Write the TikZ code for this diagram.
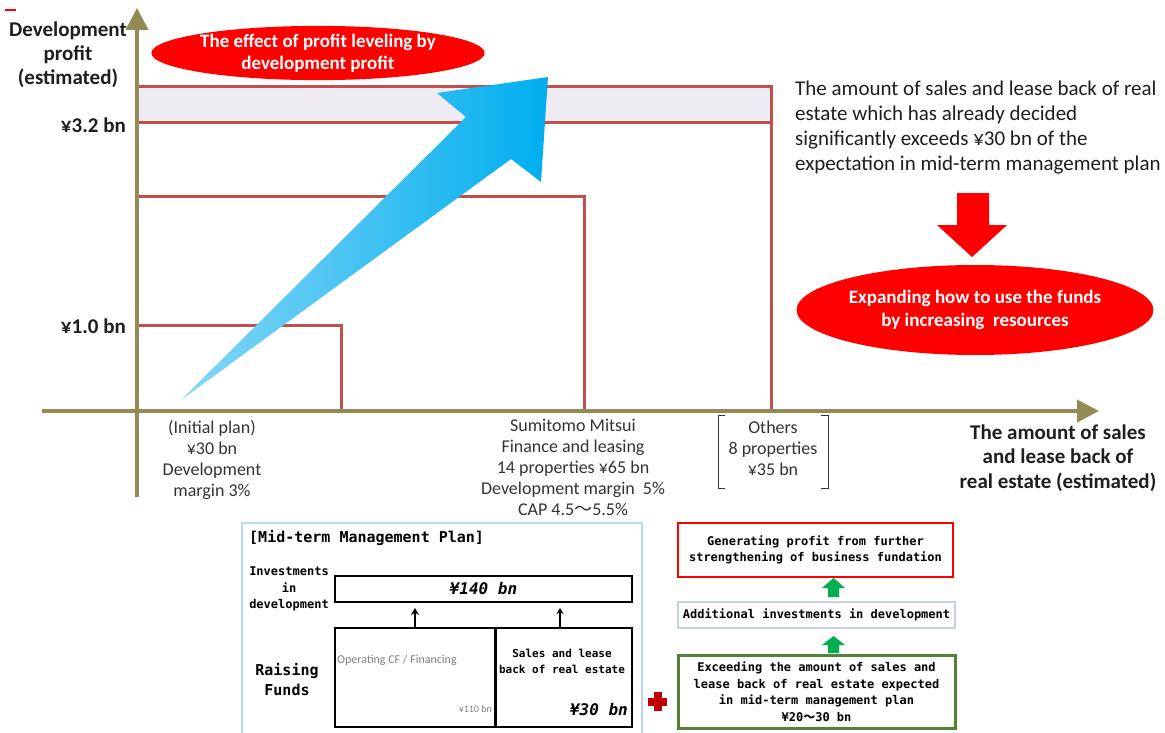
\documentclass[tikz,border=0pt]{standalone}
\usepackage{fontspec}
\setmainfont{Carlito}
\newfontfamily\monof{DejaVu Sans Mono}
\newfontfamily\cjkf{Noto Sans CJK JP}
\usetikzlibrary{arrows.meta,shapes.geometric}
\definecolor{axisol}{HTML}{948A54}
\definecolor{rectred}{HTML}{C0504D}
\definecolor{bandfill}{HTML}{EEEBF3}
\definecolor{txtdark}{HTML}{1E1E1E}
\definecolor{txtgray}{HTML}{333333}
\definecolor{bluelight}{HTML}{86D6F6}
\definecolor{bluedark}{HTML}{00AEEF}
\definecolor{panelblue}{HTML}{BDD7EE}
\definecolor{midbox}{HTML}{C5D0E6}
\definecolor{boxgreen}{HTML}{548235}
\definecolor{arrgreen}{HTML}{00B050}
\definecolor{plusred}{HTML}{C00000}
\tikzset{
  axisline/.style={axisol, line width=4pt, -{Triangle[length=22pt,width=22pt]}},
  redrect/.style={draw=rectred, line width=3pt},
  redell/.style={ellipse, fill=red, text=white, align=center, inner sep=0pt},
  ylab/.style={font=\bfseries\fontsize{21}{24}\selectfont, align=center, text=txtdark, inner sep=0pt},
  xlab/.style={font=\fontsize{18}{21}\selectfont, align=center, text=txtgray, inner sep=0pt},
  bodytxt/.style={font=\fontsize{21}{25}\selectfont, align=left, text=txtdark, inner sep=0pt},
  monotxt/.style={font=\monof\bfseries\fontsize{12}{16.5}\selectfont, align=center, text=black, inner sep=0pt},
  plainbox/.style={draw=black, inner sep=0pt},
  greenarrow/.style={fill=arrgreen},
}
\begin{document}
\begin{tikzpicture}[x=1pt,y=-1pt]
\useasboundingbox (0,0) rectangle (1165,733);
% stray red dash
\draw[red, line width=1.5pt] (5,10) -- (16,10);

% band and rectangles
\fill[bandfill] (137,87) rectangle (771,123);
\draw[redrect] (137,87) rectangle (771,411);
\draw[redrect] (137,123) -- (771,123);
\draw[redrect] (137,196) rectangle (584,411);
\draw[redrect] (137,325) rectangle (341,411);

% big blue arrow
\shade[left color=bluelight, right color=bluedark]
  (181,400) -- (466,117) -- (437,93) -- (548,77) -- (541,182) -- (511,159) -- cycle;

% axes
\coordinate (yb) at (137,497);
\coordinate (yt) at (137,8);
\coordinate (xl) at (42,411);
\coordinate (xr) at (1099,411);
\draw[axisline] (yb) -- (yt);
\draw[axisline] (xl) -- (xr);

% top ellipse
\node[redell, minimum width=273pt, minimum height=54pt,
      font=\bfseries\fontsize{19}{22}\selectfont] (eff) at (318,53)
  {The effect of profit leveling by\\development profit};

% y labels
\node[ylab] (ytitle) at (68,55) {Development\\profit\\(estimated)};
\node[ylab, anchor=east] (y32) at (126,125) {¥3.2 bn};
\node[ylab, anchor=east] (y10) at (126,326) {¥1.0 bn};

% x labels
\node[xlab] (xinit) at (212,460) {(Initial plan)\\¥30 bn\\Development\\margin 3\%};
\node[xlab] (xsmf) at (573,467) {Sumitomo Mitsui\\Finance and leasing\\14 properties ¥65 bn\\Development margin\ \ 5\%\\CAP 4.5{\cjkf ～}5.5\%};
\node[xlab] (xoth) at (773,448) {Others\\8 properties\\¥35 bn};
\draw[txtgray, line width=1pt] (725,415) -- (718,415) -- (718,488) -- (725,488);
\draw[txtgray, line width=1pt] (821,415) -- (828,415) -- (828,488) -- (821,488);
\node[ylab, font=\bfseries\fontsize{21}{24.5}\selectfont] (xtitle) at (1058,458) {The amount of sales\\and lease back of\\real estate (estimated)};

% right text
\node[bodytxt, anchor=north west] (rtxt) at (795,81)
  {The amount of sales and lease back of real\\estate which has already decided\\significantly exceeds ¥30 bn of the\\expectation in mid-term management plan};

% red down arrow
\fill[red] (957,193) -- (989,193) -- (989,225) -- (1007,225) -- (972,257) -- (937,225) -- (957,225) -- cycle;

% right ellipse
\node[redell, minimum width=316pt, minimum height=90pt,
      font=\bfseries\fontsize{19}{23}\selectfont] (expand) at (975,310)
  {Expanding how to use the funds\\by increasing\ \ resources};

% bottom-left panel
\draw[panelblue, line width=1.5pt] (242,523) rectangle (642,745);
\node[monotxt, font=\monof\bfseries\fontsize{15}{18}\selectfont, anchor=west] (ptitle) at (249,538) {[Mid-term Management Plan]};
\node[monotxt] (inv) at (289,589) {Investments\\in\\development};
\node[plainbox, line width=2pt, minimum width=297pt, minimum height=26pt,
      font=\monof\bfseries\itshape\fontsize{16}{18}\selectfont] (b140) at (483.5,589) {¥140 bn};
\node[monotxt, font=\monof\bfseries\fontsize{15}{20}\selectfont] (raise) at (287,680) {Raising\\Funds};
\node[plainbox, line width=1.2pt, minimum width=161pt, minimum height=99pt] (fundL) at (415.5,677.5) {};
\node[plainbox, line width=2pt, minimum width=137pt, minimum height=99pt] (fundR) at (563.5,677.5) {};
\node[font=\fontsize{12}{14}\selectfont, text=gray, anchor=west, inner sep=0pt] (opcf) at (337,660) {Operating CF / Financing};
\node[font=\fontsize{10}{12}\selectfont, text=gray, anchor=east, inner sep=0pt] (y110) at (492,709) {¥110 bn};
\node[monotxt, font=\monof\bfseries\fontsize{11}{16}\selectfont] (slb) at (562,661) {Sales and lease\\back of real estate};
\node[font=\monof\bfseries\itshape\fontsize{16}{18}\selectfont, anchor=east, inner sep=0pt] (y30) at (628,710) {¥30 bn};
\coordinate (a1s) at (415,627);
\coordinate (a1e) at (415,608);
\coordinate (a2s) at (560,627);
\coordinate (a2e) at (560,608);
\draw[line width=2pt, -{Stealth[length=7pt,width=8pt]}] (a1s) -- (a1e);
\draw[line width=1.2pt, -{Stealth[length=6pt,width=7pt]}] (a2s) -- (a2e);

% red plus
\fill[plusred] (648,698) rectangle (667,705.5);
\fill[plusred] (654,692) rectangle (661.5,711);

% right column
\node[draw=red, line width=2.5pt, minimum width=275pt, minimum height=54pt, monotxt] (gen) at (815.5,550)
  {Generating profit from further\\strengthening of business fundation};
\node[draw=midbox, line width=2pt, minimum width=277pt, minimum height=26pt, monotxt] (addl) at (816.5,615)
  {Additional investments in development};
\node[draw=boxgreen, line width=3pt, minimum width=277pt, minimum height=73pt, monotxt] (exc) at (816.5,691.5)
  {Exceeding the amount of sales and\\lease back of real estate expected\\in mid-term management plan\\¥20{\cjkf ～}30 bn};
\fill[greenarrow] (828,597) -- (839,597) -- (839,588) -- (845,588) -- (833.5,578) -- (822,588) -- (828,588) -- cycle;
\fill[greenarrow] (828,653) -- (839,653) -- (839,645) -- (845,645) -- (833.5,636) -- (822,645) -- (828,645) -- cycle;
\end{tikzpicture}
\end{document}
